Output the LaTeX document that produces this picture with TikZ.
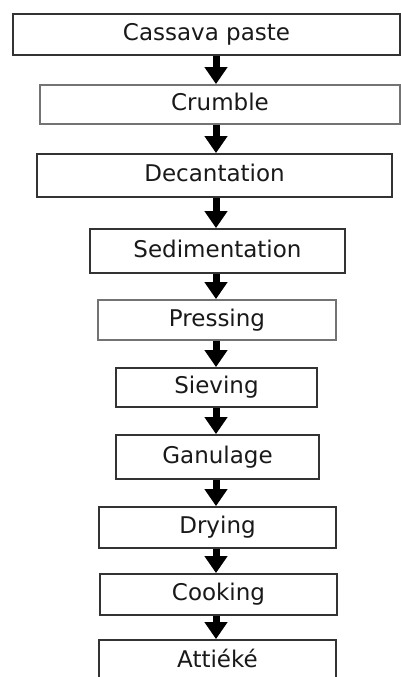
\documentclass[tikz,border=0pt]{standalone}
\usepackage{tikz}
\usepackage{fontspec}
\setmainfont{DejaVu Sans}
\usetikzlibrary{calc,
	positioning,
	arrows.meta}
\tikzstyle{stp}=[draw=black!80, line width=1.8pt, fill=white, inner sep=0, text=black!90,
		font=\fontsize{23}{27}\selectfont, text height=16.5pt, text depth=4.5pt]
\tikzstyle{stpl}=[stp, draw=black!55]
\tikzstyle{arr}=[line width=7pt, -{Triangle[width=22pt, length=17pt]}]

\begin{document}
\begin{tikzpicture}[x=1pt, y=-1pt]
                \clip (0,0) rectangle (401,677);
                \fill[white] (0,0) rectangle (401,677);
                \coordinate (spine) at (216,0);
                \node[stp, minimum width=387pt, minimum height=41pt] (cas) at (206.5,34.5) {Cassava paste};
                \node[stpl, minimum width=360pt, minimum height=39pt] (cru) at (220,104.5) {Crumble};
                \node[stp, minimum width=355pt, minimum height=43pt] (dec) at (214.5,175.5) {Decantation};
                \node[stp, minimum width=255pt, minimum height=44pt] (sed) at (217.5,251) {Sedimentation};
                \node[stpl, minimum width=238pt, minimum height=40pt] (pre) at (217,320) {Pressing};
                \node[stp, minimum width=201pt, minimum height=39pt] (sie) at (216.5,387.5) {Sieving};
                \node[stp, minimum width=203pt, minimum height=44pt] (gan) at (217.5,457) {Ganulage};
                \node[stp, minimum width=237pt, minimum height=41pt] (dry) at (217.5,527.5) {Drying};
                \node[stp, minimum width=237pt, minimum height=41pt] (coo) at (218.5,594.5) {Cooking};
                \node[stp, minimum width=237pt, minimum height=42pt] (att) at (217.5,661) {Attiéké};
                \foreach \a/\b in {cas/cru, cru/dec, dec/sed, sed/pre, pre/sie, sie/gan, gan/dry, dry/coo, coo/att}
                    \draw[arr] (\a.south -| spine) -- (\b.north -| spine);
            \end{tikzpicture}
\end{document}
